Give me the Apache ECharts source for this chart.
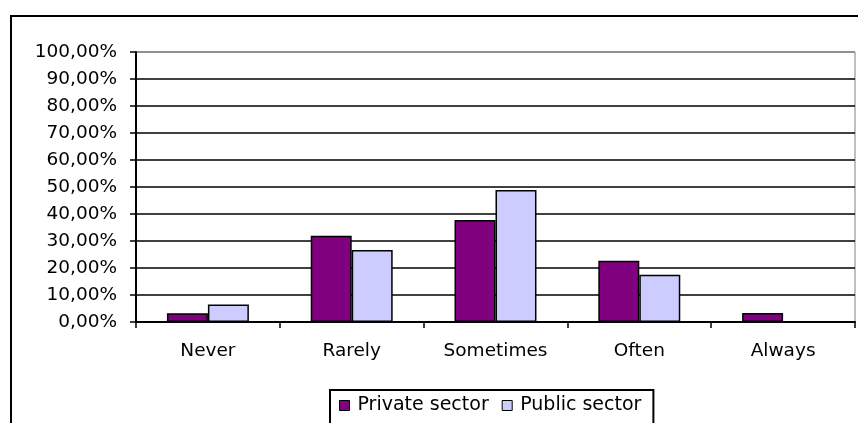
<!DOCTYPE html>
<html>
<head>
<meta charset="utf-8">
<script src="https://cdn.jsdelivr.net/npm/echarts@6/dist/echarts.min.js"></script>
<style>
  html, body { margin: 0; padding: 0; background: #fff; }
  #chart { width: 858px; height: 423px; }
</style>
</head>
<body>
<div id="chart"></div>
<script>
// Survey answers by frequency, share of respondents (%)
const categories = ['Never', 'Rarely', 'Sometimes', 'Often', 'Always'];
const privateSector = [3.2, 31.9, 37.8, 22.7, 3.3];
const publicSector = [6.5, 26.7, 48.9, 17.5, 0];
const seriesNames = ['Private sector', 'Public sector'];
const yTicks = { min: 0, max: 100, step: 10 };

const FONT = 'DejaVu Sans';
const chart = echarts.init(document.getElementById('chart'));

function pct(v) {
  return v.toFixed(2).replace('.', ',') + '%';
}

// zero-height bars are left without an outline
function barData(values) {
  return values.map(v => v === 0 ? { value: v, itemStyle: { borderWidth: 0 } } : v);
}

// gridlines are black; the top one blends into the grey plot frame
const gridCount = (yTicks.max - yTicks.min) / yTicks.step + 1;
const gridColors = Array.from({ length: gridCount }, (_, i) => i === gridCount - 1 ? '#808080' : '#000');

chart.setOption({
  animation: false,
  backgroundColor: '#fff',
  textStyle: { fontFamily: FONT, color: '#000' },
  graphic: [{
    type: 'rect',
    shape: { x: 11, y: 16, width: 900, height: 500 },
    style: { fill: 'none', stroke: '#000', lineWidth: 2 },
    silent: true
  }],
  grid: {
    left: 136, top: 52, right: 3, bottom: 101,
    show: true, borderColor: '#808080', borderWidth: 1, backgroundColor: 'transparent'
  },
  legend: {
    data: seriesNames,
    left: 330, top: 390,
    orient: 'horizontal',
    icon: 'rect',
    itemWidth: 10, itemHeight: 10,
    itemGap: 13,
    padding: [6, 12, 40, 9],
    borderColor: '#000', borderWidth: 2,
    textStyle: { fontFamily: FONT, fontSize: 19, color: '#000', padding: [0, 0, 0, 3] },
    itemStyle: { borderColor: '#000', borderWidth: 1 }
  },
  xAxis: {
    type: 'category',
    data: categories,
    axisLine: { lineStyle: { color: '#000', width: 2 } },
    axisTick: { show: true, length: 6, lineStyle: { color: '#000', width: 1.5 } },
    axisLabel: { fontFamily: FONT, fontSize: 18.5, color: '#000', margin: 20 },
    splitLine: { show: false }
  },
  yAxis: {
    type: 'value',
    min: yTicks.min, max: yTicks.max, interval: yTicks.step,
    axisLine: { show: true, lineStyle: { color: '#000', width: 2 } },
    axisTick: { show: true, length: 6, lineStyle: { color: '#000', width: 1.5 } },
    axisLabel: { fontFamily: FONT, fontSize: 18.5, color: '#000', margin: 19, formatter: pct },
    splitLine: { show: true, lineStyle: { color: gridColors, width: 1.5 } }
  },
  series: [
    {
      name: seriesNames[0], type: 'bar', data: barData(privateSector),
      barGap: '0%', barCategoryGap: '43%',
      itemStyle: { color: '#800080', borderColor: '#000', borderWidth: 1.5 }
    },
    {
      name: seriesNames[1], type: 'bar', data: barData(publicSector),
      itemStyle: { color: '#CCCCFF', borderColor: '#000', borderWidth: 1.5 }
    }
  ]
});
</script>
</body>
</html>
